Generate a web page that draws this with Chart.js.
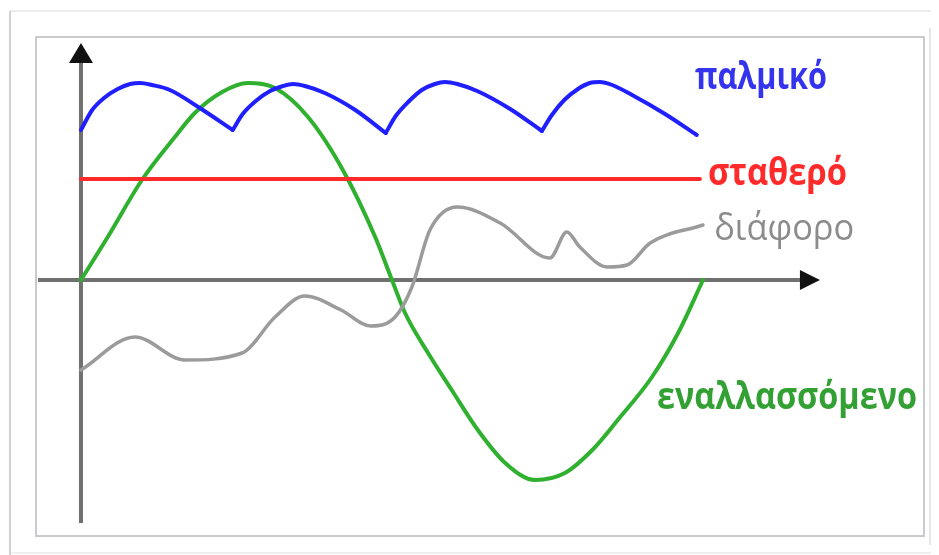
<!DOCTYPE html>
<html>
<head>
<meta charset="utf-8">
<script src="https://cdn.jsdelivr.net/npm/chart.js@4.4.1/dist/chart.umd.min.js"></script>
<style>
  html, body { margin: 0; padding: 0; background: #ffffff; }
  #wrap { position: relative; width: 939px; height: 555px; }
</style>
</head>
<body>
<div id="wrap"><canvas id="chart"></canvas></div>
<script>
/* --- Data (time t: 0..100 = one period of the AC wave, value v) --- */
var PULSE_T = [0, 1.8, 3.7, 5.9, 7.9, 9.5, 11.4, 14.3, 19.1, 24.4,
  26.0, 28.1, 30.4, 32.5, 34.1, 36.0, 39.2, 44.1, 49.0,
  50.6, 52.6, 54.8, 56.9, 58.5, 60.5, 63.7, 69.0, 74.1,
  75.7, 77.7, 79.9, 81.8, 83.4, 85.4, 88.6, 93.9, 99.0];
var PULSE_V = [75, 85, 91, 95.5, 98, 98.5, 97.5, 95, 86, 75,
  83, 89.5, 94.5, 97, 98, 97, 93.5, 85, 73.5,
  82, 89, 95, 98, 99, 98, 94.5, 85.5, 74.5,
  82.5, 90, 95.5, 98.5, 99, 97.5, 92.5, 83, 72.5];

var CONST_T = [0, 99.5];
var CONST_V = [50.5, 50.5];

var MIXED_T = [0, 8.7, 16.7, 25.9, 31.2, 36.0, 41.8, 46.6, 50.5, 53.2,
  56.1, 60.5, 67.4, 75.4, 78.1, 80.2, 84.6, 87.8, 91.5, 100];
var MIXED_V = [-45, -28.5, -40, -36.5, -18.5, -8, -15, -23, -18.5, -3.5,
  25, 36.5, 28.5, 11, 24, 16.5, 6.5, 7.5, 18.5, 27.5];

var AC_T = [0, 4.3, 9.8, 15.1, 18.3, 22.7, 26.8, 31.2, 36.5, 42.1, 47.3, 50,
  52.1, 55.8, 59.6, 63.8, 68.2, 73.0, 77.8, 82.2, 86.3, 91.8, 96.0, 100];
var AC_V = [0, 21.5, 50, 71.5, 83.5, 94, 98.5, 96, 81.5, 55, 21.5, 0,
  -16.5, -36.5, -55, -75, -91.5, -100, -96.5, -85, -70, -48.5, -26.5, 0];

var LABELS = ["παλμικό", "σταθερό", "διάφορο", "εναλλασσόμενο"];

/* --- Helpers --- */
function toPoints(ts, vs, from, to) {
  var pts = [];
  for (var i = from; i <= to; i++) pts.push({ x: ts[i], y: vs[i] });
  return pts;
}

function lineSet(label, pts, color, width, smooth) {
  return {
    label: label,
    data: pts,
    showLine: true,
    borderColor: color,
    borderWidth: width,
    pointRadius: 0,
    tension: smooth ? 0.4 : 0,
    cubicInterpolationMode: smooth ? "monotone" : "default",
    borderCapStyle: "round",
    borderJoinStyle: "round",
  };
}

// pulsating curve: one smooth arc per pulse, sharp corner at each minimum
function pulseSets(color) {
  var sets = [], start = 0;
  for (var i = 1; i < PULSE_V.length; i++) {
    var isMin = i < PULSE_V.length - 1 && PULSE_V[i] < PULSE_V[i - 1] && PULSE_V[i] < PULSE_V[i + 1];
    if (isMin || i === PULSE_V.length - 1) {
      sets.push(lineSet(LABELS[0], toPoints(PULSE_T, PULSE_V, start, i), color, 4, true));
      start = i;
    }
  }
  return sets;
}

/* --- Decorations: frame, axes with arrows, curve labels --- */
var labelStyles = [
  { t: 98.7, v: 95.5, color: "#3434ee", weight: "bold", width: 132 },
  { t: 100.8, v: 47.5, color: "#ff2a2a", weight: "bold", width: 139 },
  { t: 101.8, v: 20, color: "#8c8c8c", weight: "normal", width: 140 },
  { t: 92.6, v: -64.5, color: "#33a033", weight: "bold", width: 260 },
];

var decor = {
  id: "decor",
  beforeDraw: function (chart) {
    var ctx = chart.ctx;
    ctx.save();
    ctx.fillStyle = "#ffffff";
    ctx.fillRect(0, 0, chart.width, chart.height);
    // outer picture frame
    ctx.lineWidth = 2;
    ctx.strokeStyle = "#ececec";
    ctx.beginPath(); ctx.moveTo(10, 11); ctx.lineTo(931, 11); ctx.stroke();
    ctx.strokeStyle = "#e6e6e6";
    ctx.beginPath(); ctx.moveTo(930, 28); ctx.lineTo(930, 545); ctx.stroke();
    ctx.strokeStyle = "#efefef";
    ctx.beginPath(); ctx.moveTo(10, 553); ctx.lineTo(931, 553); ctx.stroke();
    ctx.strokeStyle = "#d2d2d2";
    ctx.beginPath(); ctx.moveTo(10, 11); ctx.lineTo(10, 555); ctx.stroke();
    // inner box = chart area
    var a = chart.chartArea;
    ctx.strokeStyle = "#c8cacd";
    ctx.lineWidth = 2;
    ctx.strokeRect(a.left, a.top, a.right - a.left, a.bottom - a.top);
    ctx.restore();
  },
  beforeDatasetsDraw: function (chart) {
    var ctx = chart.ctx, xs = chart.scales.x, ys = chart.scales.y;
    var x0 = xs.getPixelForValue(0), y0 = ys.getPixelForValue(0);
    ctx.save();
    ctx.strokeStyle = "#707070";
    ctx.lineWidth = 4;
    ctx.beginPath();
    ctx.moveTo(chart.chartArea.left + 2, y0);
    ctx.lineTo(xs.getPixelForValue(116), y0);
    ctx.moveTo(x0, ys.getPixelForValue(113));
    ctx.lineTo(x0, ys.getPixelForValue(-121.5));
    ctx.stroke();
    ctx.restore();
  },
  afterDatasetsDraw: function (chart) {
    var ctx = chart.ctx, xs = chart.scales.x, ys = chart.scales.y;
    var x0 = xs.getPixelForValue(0), y0 = ys.getPixelForValue(0);
    ctx.save();
    ctx.fillStyle = "#111111";
    // x arrow
    var tip = xs.getPixelForValue(118.8);
    ctx.beginPath();
    ctx.moveTo(tip, y0);
    ctx.lineTo(tip - 20, y0 - 10);
    ctx.lineTo(tip - 20, y0 + 10);
    ctx.closePath();
    ctx.fill();
    // y arrow
    var top = ys.getPixelForValue(118.5);
    ctx.beginPath();
    ctx.moveTo(x0, top);
    ctx.lineTo(x0 - 12, top + 20);
    ctx.lineTo(x0 + 12, top + 20);
    ctx.closePath();
    ctx.fill();
    // curve labels, squeezed to the measured width
    ctx.textBaseline = "alphabetic";
    ctx.textAlign = "left";
    LABELS.forEach(function (text, i) {
      var s = labelStyles[i];
      ctx.font = s.weight + " 37px 'Open Sans'";
      var sx = s.width / ctx.measureText(text).width;
      ctx.save();
      ctx.translate(xs.getPixelForValue(s.t), ys.getPixelForValue(s.v));
      ctx.scale(sx, 1);
      ctx.fillStyle = s.color;
      ctx.fillText(text, 0, 0);
      ctx.restore();
    });
    ctx.restore();
  },
};

/* --- Chart --- */
var datasets = [
  lineSet(LABELS[2], toPoints(MIXED_T, MIXED_V, 0, MIXED_T.length - 1), "#9b9b9b", 3.5, true),
  lineSet(LABELS[1], toPoints(CONST_T, CONST_V, 0, CONST_T.length - 1), "#ff2b2b", 4, false),
].concat(pulseSets("#1f1fff"), [
  lineSet(LABELS[3], toPoints(AC_T, AC_V, 0, AC_T.length - 1), "#2fb12f", 4, true),
]);

new Chart(document.getElementById("chart"), {
  type: "scatter",
  data: { datasets: datasets },
  options: {
    responsive: true,
    maintainAspectRatio: false,
    animation: false,
    layout: { padding: { left: 36, top: 37, right: 15, bottom: 19 } },
    plugins: { legend: { display: false }, tooltip: { enabled: false } },
    scales: {
      x: { type: "linear", display: false, min: -7.23, max: 135.53 },
      y: { type: "linear", display: false, min: -128, max: 121.5 },
    },
  },
  plugins: [decor],
});
</script>
</body>
</html>
